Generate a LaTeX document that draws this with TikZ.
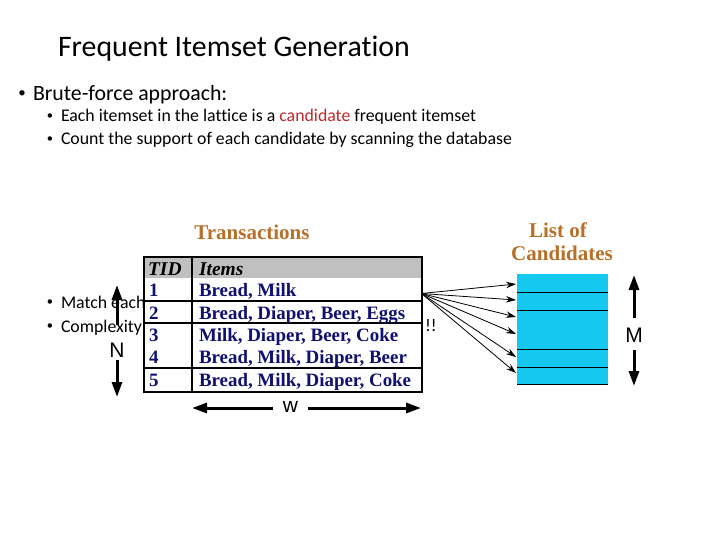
\documentclass[tikz,border=0pt]{standalone}
\usepackage{fontspec}
\setmainfont{Carlito}[Ligatures={NoCommon}]
\newfontfamily\tabfont{Liberation Serif}
\newfontfamily\arialfont{Liberation Sans}
\usetikzlibrary{arrows.meta}
\definecolor{navytext}{RGB}{16,16,112}
\definecolor{browntext}{RGB}{184,112,40}
\definecolor{candcyan}{RGB}{20,200,240}
\definecolor{hdrgrey}{RGB}{192,192,192}
\definecolor{candred}{RGB}{192,40,40}
\begin{document}
\begin{tikzpicture}[x=1pt,y=-1pt,
  txt/.style={anchor=base west,inner sep=0pt,outer sep=0pt},
  titletxt/.style={txt,font=\fontsize{29.8}{32}\selectfont},
  lvlone/.style={txt,font=\fontsize{21.8}{24}\selectfont},
  lvltwo/.style={txt,font=\fontsize{17.8}{19}\selectfont},
  bulone/.style={anchor=center,inner sep=0pt,font=\fontsize{15}{16}\selectfont},
  bultwo/.style={anchor=center,inner sep=0pt,font=\fontsize{12.5}{14}\selectfont},
  tabhead/.style={txt,font=\tabfont\bfseries\itshape\fontsize{19.5}{20}\selectfont},
  tabcell/.style={txt,text=navytext,font=\tabfont\bfseries\fontsize{18.9}{20}\selectfont},
  captxt/.style={anchor=base,inner sep=0pt,text=browntext,font=\tabfont\bfseries\fontsize{21}{22}\selectfont},
  dimlabel/.style={inner sep=0pt,font=\arialfont\fontsize{21}{22}\selectfont},
  bigarrow/.style={line width=3pt,-{Triangle[length=15pt,width=10pt]}},
  fanarrow/.style={line width=0.8pt,-{Stealth[length=10pt,width=6.5pt]}},
  rowline/.style={line width=1.2pt},
  candline/.style={line width=1pt}]
\useasboundingbox (0,0) rectangle (720,540);

% title and bullets
\node[titletxt] (title) at (58,57) {Frequent Itemset Generation};
\node[bulone] (b1) at (22,94) {•};
\node[lvlone] (brute) at (33,101) {Brute-force approach:};
\node[bultwo] (b2) at (50,117) {•};
\node[lvltwo] (each) at (61,122) {Each itemset in the lattice is a \textcolor{candred}{candidate} frequent itemset};
\node[bultwo] (b3) at (50,140) {•};
\node[lvltwo] (count) at (61,145) {Count the support of each candidate by scanning the database};
\node[bultwo] (b4) at (50,303) {•};
\node[lvltwo] (match) at (61,308) {Match each};
\node[bultwo] (b5) at (50,327) {•};
\node[lvltwo] (compl) at (61,332) {Complexity};
\node[lvltwo] (bang) at (425,331) {!!};

% table
\fill[hdrgrey] (143,256) rectangle (421,278);
\node[draw,line width=1.6pt,minimum width=278pt,minimum height=135pt,inner sep=0pt,anchor=north west] (tbl) at (143,256) {};
\draw[line width=1.3pt] (192,256) -- (192,391);
\draw[rowline] (143,301) -- (421,301);
\draw[rowline] (143,323) -- (421,323);
\draw[rowline] (143,368) -- (421,368);

\node[captxt] (trans) at (252,240) {Transactions};
\node[tabhead] (tid) at (148,275) {TID};
\node[tabhead] (items) at (199,275) {Items};
\node[tabcell] (r1n) at (149,296) {1};
\node[tabcell] (r1) at (199,296) {Bread, Milk};
\node[tabcell] (r2n) at (149,319) {2};
\node[tabcell] (r2) at (199,319) {Bread, Diaper, Beer, Eggs};
\node[tabcell] (r3n) at (149,341) {3};
\node[tabcell] (r3) at (199,341) {Milk, Diaper, Beer, Coke};
\node[tabcell] (r4n) at (149,363.5) {4};
\node[tabcell] (r4) at (199,363.5) {Bread, Milk, Diaper, Beer};
\node[tabcell] (r5n) at (149,386) {5};
\node[tabcell] (r5) at (199,386) {Bread, Milk, Diaper, Coke};

% candidates
\node[captxt] (listof) at (558,237) {List of};
\node[captxt] (candt) at (562,260) {Candidates};
\node[fill=candcyan,minimum width=91pt,minimum height=110pt,inner sep=0pt,anchor=north west] (cand) at (517,274) {};
\draw[candline] (517,292) -- (608,292);
\draw[candline] (517,310) -- (608,310);
\draw[candline] (517,349) -- (608,349);
\draw[candline] (517,367) -- (608,367);
\draw[candline] (517,384) -- (608,384);

% fan of arrows
\coordinate (src) at (421.5,293.5);
\coordinate (c1) at (516,284);
\coordinate (c2) at (516,300);
\coordinate (c3) at (516,317);
\coordinate (c4) at (516,334);
\coordinate (c5) at (516,357);
\coordinate (c6) at (516,373);
\foreach \c in {c1,c2,c3,c4,c5,c6} \draw[fanarrow] (src) -- (\c);

% N arrow
\node[dimlabel] (nlab) at (117,350) {N};
\coordinate (n1) at (117,325);
\coordinate (ntop) at (117,285);
\coordinate (n2) at (117,360);
\coordinate (nbot) at (117,397);
\draw[bigarrow] (n1) -- (ntop);
\draw[bigarrow] (n2) -- (nbot);

% M arrow
\node[dimlabel] (mlab) at (634,335.5) {M};
\coordinate (m1) at (634,318);
\coordinate (mtop) at (634,275);
\coordinate (m2) at (634,350);
\coordinate (mbot) at (634,386);
\draw[bigarrow] (m1) -- (mtop);
\draw[bigarrow] (m2) -- (mbot);

% w arrow
\node[dimlabel] (wlab) at (290.5,407) {w};
\coordinate (w1) at (273,408);
\coordinate (wleft) at (192,408);
\coordinate (w2) at (308,408);
\coordinate (wright) at (421,408);
\draw[bigarrow] (w1) -- (wleft);
\draw[bigarrow] (w2) -- (wright);
\end{tikzpicture}
\end{document}
